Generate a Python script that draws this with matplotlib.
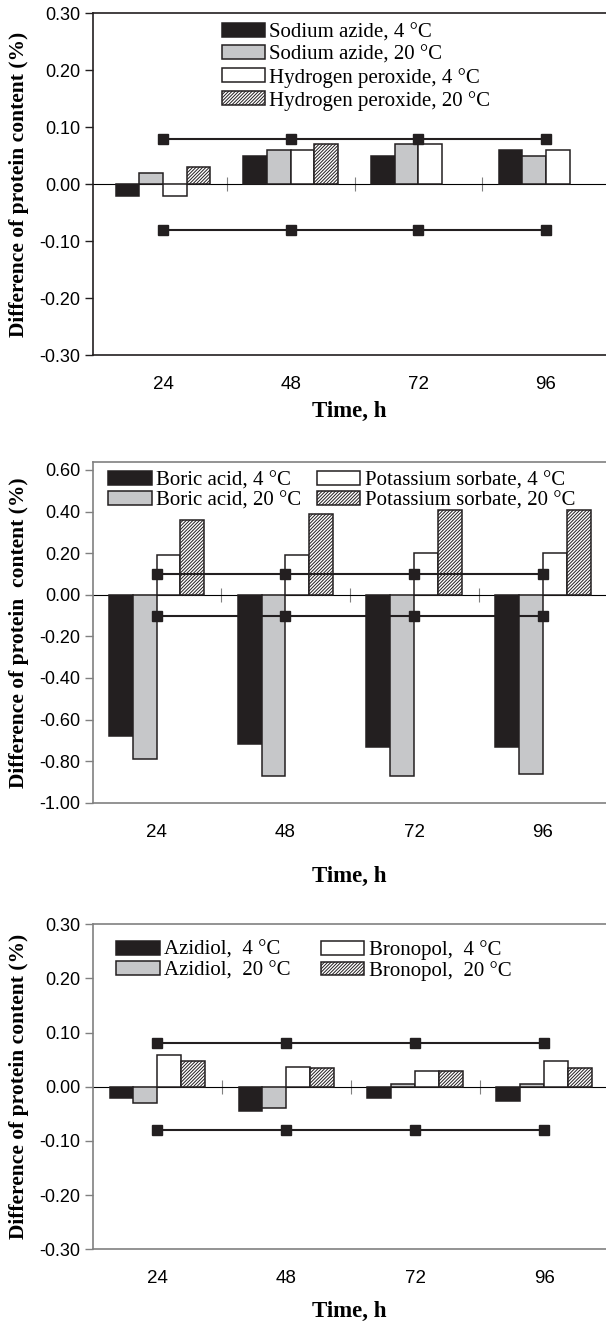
import numpy as np
import matplotlib
matplotlib.use('Agg')
import matplotlib.pyplot as plt
from matplotlib.patches import Patch

plt.rcParams['hatch.linewidth'] = 0.7

hours = ['24', '48', '72', '96']

# panel 1
sodium_azide_4 = [-0.02, 0.05, 0.05, 0.06]
sodium_azide_20 = [0.02, 0.06, 0.07, 0.05]
peroxide_4 = [-0.02, 0.06, 0.07, 0.06]
peroxide_20 = [0.03, 0.07, np.nan, np.nan]
limit_1 = 0.08

# panel 2
boric_4 = [-0.68, -0.72, -0.73, -0.73]
boric_20 = [-0.79, -0.87, -0.87, -0.86]
sorbate_4 = [0.19, 0.19, 0.20, 0.20]
sorbate_20 = [0.36, 0.39, 0.41, 0.41]
limit_2 = 0.10

# panel 3
azidiol_4 = [-0.02, -0.044, -0.02, -0.027]
azidiol_20 = [-0.029, -0.039, 0.005, 0.005]
bronopol_4 = [0.058, 0.036, 0.030, 0.047]
bronopol_20 = [0.047, 0.035, 0.030, 0.034]
limit_3 = 0.08

INK = '#231f20'
GRAY = '#c6c7c9'
SERIF = 'Liberation Serif'
SANS = 'Liberation Sans'
W, H = 606, 1324

styles = [dict(facecolor=INK), dict(facecolor=GRAY),
          dict(facecolor='white'), dict(facecolor='white', hatch='//////////')]


def panel(rect, series, labels, limit, ylim, yticks, xlim, spine_col,
          ylabel, xlabelpad, leg):
    ax = fig.add_axes(rect)
    x = np.arange(len(hours))
    w = 0.185
    for k, (vals, lab, st) in enumerate(zip(series, labels, styles)):
        ax.bar(x + (k - 1.5) * w, vals, w, edgecolor=INK, linewidth=1.1,
               label=lab, zorder=3, **st)
    ax.plot(x, [limit] * len(x), '-s', color=INK, lw=1.5, ms=7.5, zorder=5)
    ax.plot(x, [-limit] * len(x), '-s', color=INK, lw=1.5, ms=7.5, zorder=5)
    ax.set_xlim(*xlim)
    ax.set_ylim(*ylim)
    ax.set_yticks(yticks)
    ax.set_yticklabels([f'{round(t, 2) + 0:.2f}' for t in yticks],
                       fontsize=13, family=SANS)
    ax.set_xticks(x)
    ax.set_xticklabels(hours, fontsize=13.5, family=SANS)
    ax.tick_params(axis='x', length=0, pad=15)
    ax.tick_params(axis='y', length=6, width=1, color=spine_col, pad=3)
    ax.spines['right'].set_visible(False)
    for s in ['left', 'top', 'bottom']:
        ax.spines[s].set_color(spine_col)
        ax.spines[s].set_linewidth(1.2)
    # zero line with category separators
    frac = (0 - ylim[0]) / (ylim[1] - ylim[0])
    sec = ax.secondary_xaxis(frac)
    sec.set_xticks([0.5, 1.5, 2.5])
    sec.set_xticklabels([])
    sec.tick_params(direction='inout', length=10, width=0.8, color='#808080')
    sec.spines['bottom'].set_color('#6d6d6d')
    sec.spines['bottom'].set_linewidth(1.0)
    ax.set_ylabel(ylabel, fontsize=15.5, family=SERIF, fontweight='bold')
    ax.yaxis.set_label_coords(-0.125, 0.5)
    ax.set_xlabel('Time, h', fontsize=16.5, family=SERIF, fontweight='bold',
                  labelpad=xlabelpad)
    handles = [Patch(edgecolor=INK, linewidth=1.1, **st) for st in styles]
    ncol, anchor, lsp, csp = leg
    ax.legend(handles, labels,
              loc='upper left', bbox_to_anchor=(anchor[0] / W, 1 - anchor[1] / H),
              bbox_transform=fig.transFigure, ncol=ncol, frameon=False,
              borderpad=0, borderaxespad=0, handlelength=2.1, handleheight=0.65,
              handletextpad=0.2, labelspacing=lsp, columnspacing=csp,
              prop=dict(family=SERIF, size=15))
    return ax


fig = plt.figure(figsize=(W / 100, H / 100), dpi=100)
left = 92.8 / W

panel([left, 1 - 355 / H, 1 - left, (355 - 13.3) / H],
      [sodium_azide_4, sodium_azide_20, peroxide_4, peroxide_20],
      ['Sodium azide, 4 °C', 'Sodium azide, 20 °C',
       'Hydrogen peroxide, 4 °C', 'Hydrogen peroxide, 20 °C'],
      limit_1, (-0.30, 0.30), np.arange(-0.30, 0.31, 0.10), (-0.55, 3.47),
      INK, 'Difference of protein content (%)', 6,
      (1, (221.5, 23), 0.15, 0.4))

panel([left, 1 - 802.7 / H, 1 - left, (802.7 - 462.3) / H],
      [boric_4, boric_20, sorbate_4, sorbate_20],
      ['Boric acid, 4 °C', 'Boric acid, 20 °C',
       'Potassium sorbate, 4 °C', 'Potassium sorbate, 20 °C'],
      limit_2, (-1.00, 0.637), np.arange(-1.00, 0.61, 0.20), (-0.495, 3.49),
      '#808080', 'Difference of protein  content (%)', 18,
      (2, (108, 471), 0.05, 0.75))

panel([left, 1 - 1249.3 / H, 1 - left, (1249.3 - 924.3) / H],
      [azidiol_4, azidiol_20, bronopol_4, bronopol_20],
      ['Azidiol,  4 °C', 'Azidiol,  20 °C',
       'Bronopol,  4 °C', 'Bronopol,  20 °C'],
      limit_3, (-0.30, 0.30), np.arange(-0.30, 0.31, 0.10), (-0.5, 3.48),
      '#808080', 'Difference of protein content (%)', 10,
      (2, (116, 940), 0.05, 1.45))

fig.savefig('out.png', dpi=100)
